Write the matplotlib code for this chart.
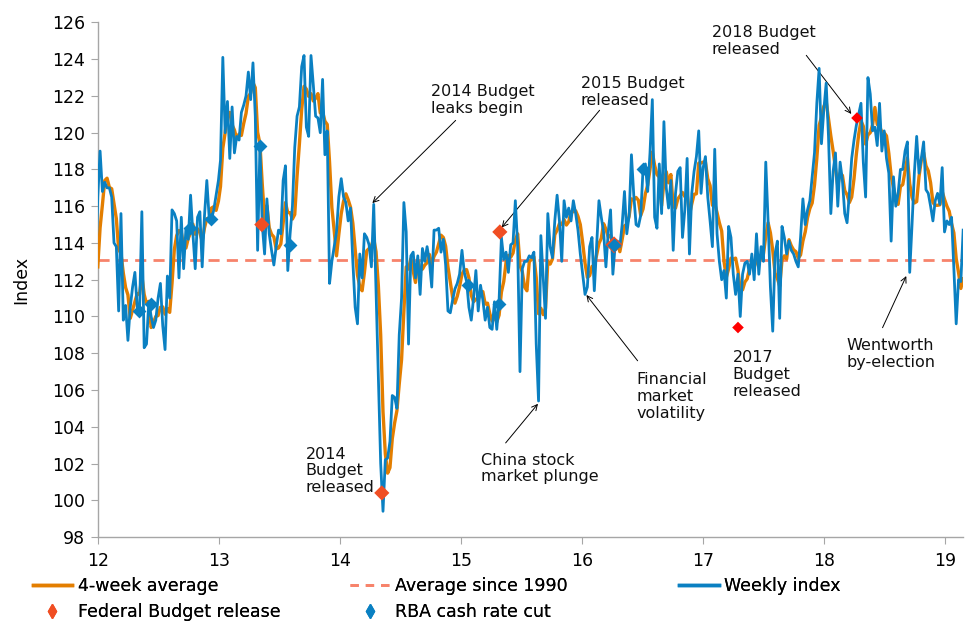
import numpy as np
import pandas as pd
import matplotlib
matplotlib.use('Agg')
import matplotlib.pyplot as plt
from matplotlib.lines import Line2D

plt.rcParams['font.family'] = ['DejaVu Sans']

# weekly index, first 3 weeks are Dec 2011 (only used for the 4-week average)
weekly = [
    110.5, 111.8, 112.0,
    # 2012
    116.5, 119.0, 116.8, 117.3, 117.0, 117.0, 116.5, 114.0, 113.8, 110.3,
    115.6, 109.8, 110.6, 108.7, 110.5, 111.6, 112.4, 110.5, 110.3, 115.7,
    108.3, 108.5, 110.8, 110.0, 109.4, 109.8, 111.0, 111.8, 109.5, 108.2,
    112.2, 111.0, 115.8, 115.6, 115.2, 112.1, 115.4, 112.6, 114.8, 114.2,
    116.6, 114.5, 112.6, 115.4,
    115.7, 112.7, 115.5, 117.4, 115.4, 115.3, 115.8, 116.6, 117.4, 118.5,
    # 2013
    124.1, 120.0, 121.7, 118.6, 121.4, 118.9, 119.8, 119.6, 121.1, 121.5,
    122.0, 123.3, 121.8, 123.8, 120.9, 113.6, 119.3, 115.0, 113.4, 116.4,
    114.5, 113.6, 112.8, 113.8, 114.7, 114.5, 117.4, 118.2, 112.5, 114.5,
    116.0, 119.2, 120.9, 121.4, 123.6, 124.2, 120.3, 119.8, 124.2, 122.6,
    120.9, 120.8, 120.0, 122.9, 118.8, 120.1,
    # 2014
    111.8, 113.0, 113.8, 114.6, 116.5, 117.5, 116.5, 116.2, 115.2, 115.9,
    113.0, 110.5, 109.6, 113.4, 112.1, 114.5, 114.3, 113.9, 112.7, 116.1,
    111.4, 106.5, 102.0, 99.4, 102.2, 102.3, 103.2, 105.7, 105.6, 105.0,
    109.0, 111.0, 116.2, 114.6, 108.5, 113.3, 113.5, 112.1,
    113.3, 111.2, 113.7, 113.0, 113.8, 113.0, 111.6, 114.7, 114.7, 114.8,
    113.5, 114.2, 112.8, 110.3, 110.2, 110.9, 111.5, 111.8, 112.3, 113.6,
    # 2015
    112.4, 111.9, 110.5, 109.8, 111.0, 112.5, 110.3, 111.7, 110.9, 109.8,
    110.5, 109.4, 109.3, 110.8, 109.3, 110.9, 114.3, 113.1, 113.5, 112.4,
    113.9, 114.0, 116.3, 113.8, 107.0,
    112.6, 113.0, 113.0, 113.3, 113.2, 113.5, 108.5, 105.4, 114.4, 112.1,
    109.9, 115.6, 113.8, 113.2, 115.2, 116.6, 115.2, 113.0, 116.3, 115.4,
    115.9, 115.2, 116.3, 115.6, 114.7, 113.4,
    # 2016
    112.3, 111.2, 111.6, 113.8, 114.3, 111.4, 113.9, 116.3, 115.4, 114.6,
    112.7, 114.6, 115.8, 112.3, 113.9, 114.1, 113.8, 115.0, 116.8, 114.5,
    115.5, 118.8, 116.6, 115.0, 114.9, 115.5, 118.0, 118.3, 116.8, 118.9,
    121.8, 115.4, 114.8, 118.3, 115.6, 120.6, 117.0, 115.9, 117.4, 113.6,
    116.7, 117.9, 118.1, 114.3, 115.8, 118.6, 113.4, 116.7, 117.9, 118.7,
    120.1, 116.7,
    # 2017
    118.1, 118.7, 116.5, 115.2, 113.8, 119.1, 114.5, 113.0, 112.0, 112.5,
    111.0, 114.9,
    114.3, 112.3, 111.2, 112.3, 110.0, 112.3, 112.9, 113.0, 112.3, 113.4,
    112.0, 114.5, 112.3, 113.8, 113.0, 118.4, 115.2, 111.6, 109.2, 113.4,
    114.1, 109.9, 114.9, 114.3, 113.4, 114.1, 113.6, 113.4, 113.0, 112.7,
    114.3, 116.4, 115.0, 115.8, 116.3, 117.6, 118.9, 121.6, 123.5, 119.4,
    # 2018
    121.2, 122.7, 119.8, 115.6, 117.9, 118.9, 116.0,
    118.4, 117.4, 115.6, 115.1, 116.7, 118.6, 119.6, 120.4, 121.0, 121.6,
    118.4, 116.5, 123.0, 122.1, 120.1, 120.3, 119.3, 121.6, 119.0, 120.1,
    118.6, 117.8, 114.1, 117.6, 116.0, 116.7, 118.0, 118.0, 119.0,
    119.5, 112.4, 115.0, 117.8, 119.8, 117.8, 118.6, 119.5, 116.9, 116.7,
    116.0, 115.2, 116.3, 116.7, 116.1, 118.1, 114.6, 115.2, 115.0, 115.4,
    # 2019
    112.6, 109.6, 112.0, 111.9, 114.7,
]

avg_since_1990 = 113.1

# Federal Budget releases and RBA cash rate cuts (x in years since 2000)
budget_x = [13.355, 14.346, 15.321, 16.264, 17.288, 18.271]
budget_y = [115.0, 100.4, 114.6, 113.9, 109.4, 120.8]
budget_col = ['#f04e23', '#f04e23', '#f04e23', '#f04e23', '#ff0000', '#ff0000']

rba_x = [12.341, 12.443, 12.761, 12.939, 13.343, 13.587, 15.059, 15.316, 16.264, 16.504]
rba_y = [110.3, 110.7, 114.8, 115.3, 119.3, 113.9, 111.7, 110.7, 113.9, 118.0]

notes = [
    ('2014 Budget\nleaks begin', 14.75, 121.76, (14.956, 120.67), (14.268, 116.17)),
    ('2015 Budget\nreleased', 15.988, 122.2, (16.145, 121.22), (15.336, 114.84)),
    ('2018 Budget\nreleased', 17.07, 124.98, (17.852, 124.21), (18.224, 121.02)),
    ('2014\nBudget\nreleased', 13.718, 101.6, None, None),
    ('China stock\nmarket plunge', 15.163, 101.73, (15.369, 103.12), (15.636, 105.25)),
    ('Financial\nmarket\nvolatility', 16.451, 105.63, (16.459, 107.59), (16.036, 111.17)),
    ('2017\nBudget\nreleased', 17.244, 106.85, None, None),
    ('Wentworth\nby-election', 18.185, 107.95, (18.482, 109.39), (18.678, 112.2)),
]

blue = '#0a80c2'
orange = '#e37e00'
salmon = '#f7836b'

dates = pd.date_range('2011-12-11', periods=len(weekly), freq='7D')
x = (dates.year - 2000) + (dates.dayofyear - 1) / 365.25
s = pd.Series(weekly)
avg4 = s.rolling(4).mean()

fig = plt.figure(figsize=(9.68, 6.23), dpi=100)
ax = fig.add_axes([0.101, 0.138, 0.894, 0.826])

ax.axhline(avg_since_1990, color=salmon, lw=2, dashes=(4, 2.6), zorder=2)
ax.plot(x, avg4, color=orange, lw=2.4, zorder=3)
ax.plot(x, s, color=blue, lw=2.0, zorder=4)

ax.scatter(budget_x, budget_y, marker='D', s=[60, 60, 60, 75, 35, 35], c=budget_col, zorder=5, linewidths=0)
ax.scatter(rba_x, rba_y, marker='D', s=50, c=blue, zorder=6, linewidths=0)

for txt, tx, ty, start, end in notes:
    ax.text(tx, ty, txt, ha='left', va='center', fontsize=11.5, linespacing=1.15, color='#111111')
    if start is not None:
        ax.annotate('', xy=end, xytext=start,
                    arrowprops=dict(arrowstyle='->', color='black', lw=0.7, shrinkA=0, shrinkB=0))

ax.set_xlim(12, x[-1])
ax.set_ylim(98, 126)
ax.set_xticks(range(12, 20))
ax.set_xticklabels([str(i) for i in range(12, 20)])
ax.set_yticks(range(98, 127, 2))

for sp in ['top', 'right']:
    ax.spines[sp].set_visible(False)
for sp in ['left', 'bottom']:
    ax.spines[sp].set_color('#a6a6a6')
    ax.spines[sp].set_linewidth(1.0)
ax.tick_params(axis='both', colors='#a6a6a6', length=5, labelsize=12.5, labelcolor='black')
ax.tick_params(axis='x', pad=6)
ax.tick_params(axis='y', pad=4)
ax.set_ylabel('Index', fontsize=12.5, labelpad=16)

# legend, laid out as three columns like the original
h_avg = Line2D([], [], color=orange, lw=2.5)
h_dash = Line2D([], [], color=salmon, lw=2, dashes=(3, 2.5))
h_week = Line2D([], [], color=blue, lw=2.5)
h_bud = Line2D([], [], color='#f04e23', marker='d', ls='none', markersize=7)
h_rba = Line2D([], [], color=blue, marker='d', ls='none', markersize=7)

cols = [
    ([h_avg, h_bud], ['4-week average', 'Federal Budget release'], 0.038),
    ([h_dash, h_rba], ['Average since 1990', 'RBA cash rate cut'], 0.366),
    ([h_week], ['Weekly index'], 0.706),
]
for hs, ls, lx in cols:
    leg = fig.legend(hs, ls, loc='upper left', bbox_to_anchor=(lx - 0.008, 0.08), frameon=False,
                     fontsize=12.5, handlelength=2.3, handletextpad=0.3, labelspacing=0.5,
                     borderaxespad=0, borderpad=0.2)
    fig.add_artist(leg)

fig.savefig('out.png', dpi=100)
